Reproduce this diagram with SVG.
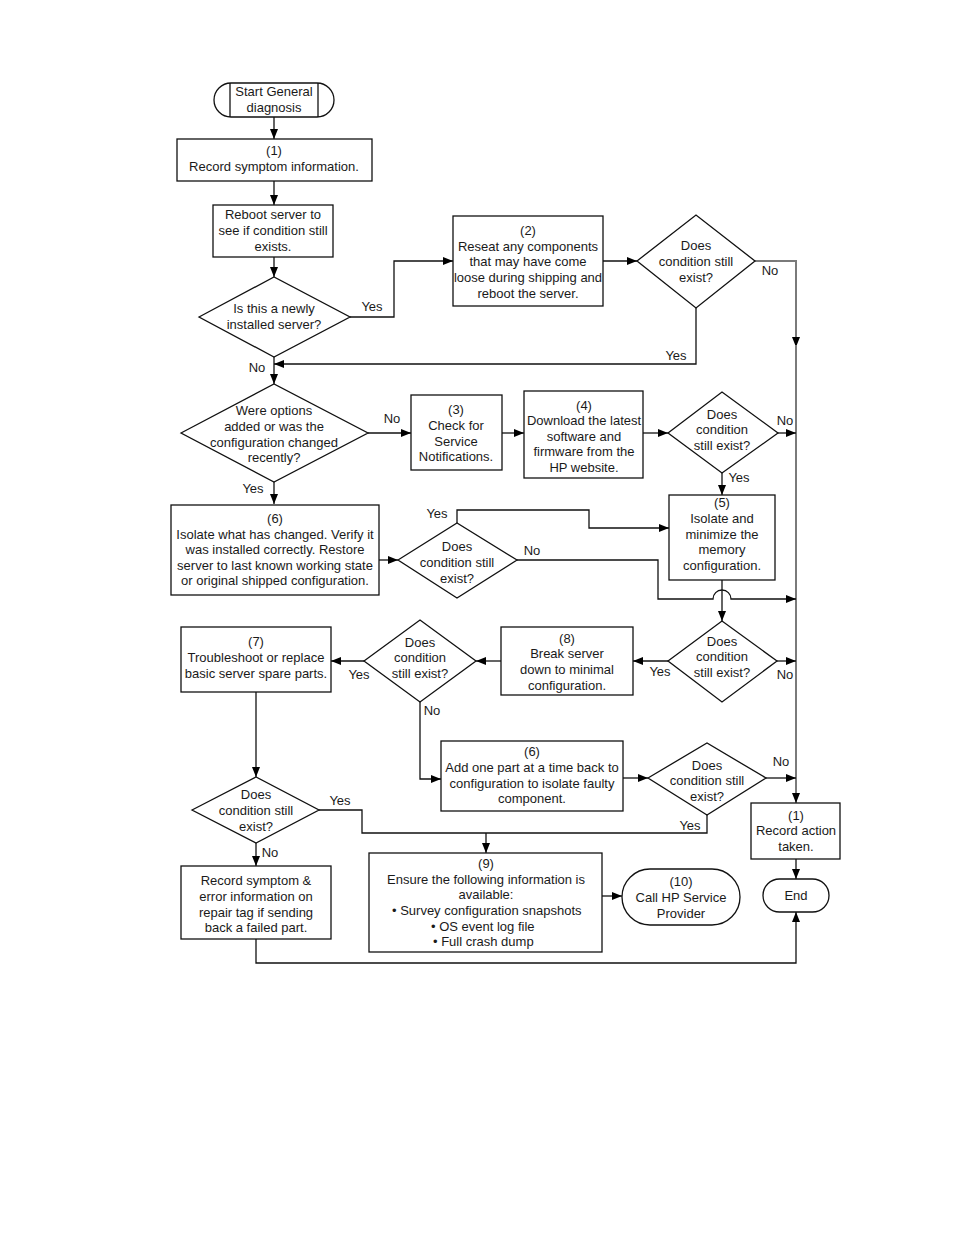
<svg xmlns="http://www.w3.org/2000/svg" width="954" height="1235" viewBox="0 0 954 1235">
<style>
.n rect,.n polygon,.n line{fill:#fff;stroke:#111;stroke-width:1.3}
.c path{fill:none;stroke:#111;stroke-width:1.3}
.c path.bus{stroke:#7a7a7a;stroke-width:2}
text{font-family:"Liberation Sans",Arial,sans-serif;font-size:13px;fill:#1a1a1a;text-anchor:middle}
.n text.l{text-anchor:start}
</style>
<defs>
<marker id="a" markerUnits="userSpaceOnUse" markerWidth="10" markerHeight="8" refX="10" refY="4" orient="auto" viewBox="0 0 10 8">
<path d="M0,0 L10,4 L0,8 z" fill="#000"/>
</marker>
</defs>
<rect width="954" height="1235" fill="#fff"/>
<g class="c" id="connectors">
<path d="M274,117 V139" marker-end="url(#a)"/>
<path d="M274,181 V205" marker-end="url(#a)"/>
<path d="M274,257 V277" marker-end="url(#a)"/>
<path d="M350,317 H394 V261 H453" marker-end="url(#a)"/>
<path d="M603,261 H637" marker-end="url(#a)"/>
<path class="bus" d="M755,261 H796 V347" marker-end="url(#a)"/>
<path class="bus" d="M796,345 V803" marker-end="url(#a)"/>
<path d="M696,308 V364 H274" marker-end="url(#a)"/>
<path d="M274,357 V384" marker-end="url(#a)"/>
<path d="M368,433 H411" marker-end="url(#a)"/>
<path d="M502,433 H524" marker-end="url(#a)"/>
<path d="M643,433 H668" marker-end="url(#a)"/>
<path d="M778,433 H796" marker-end="url(#a)"/>
<path d="M722,473 V495" marker-end="url(#a)"/>
<path d="M274,482 V504" marker-end="url(#a)"/>
<path d="M379,560 H398" marker-end="url(#a)"/>
<path d="M457,523 V510 H589 V528 H669" marker-end="url(#a)"/>
<path d="M517,560 H658 V599 H713 A9,9 0 0 1 731,599 H796" marker-end="url(#a)"/>
<path d="M722,580 V621" marker-end="url(#a)"/>
<path d="M777,661 H796" marker-end="url(#a)"/>
<path d="M668,661 H633" marker-end="url(#a)"/>
<path d="M501,661 H476" marker-end="url(#a)"/>
<path d="M364,661 H331" marker-end="url(#a)"/>
<path d="M420,702 V779 H441" marker-end="url(#a)"/>
<path d="M256,692 V777" marker-end="url(#a)"/>
<path d="M623,778 H648" marker-end="url(#a)"/>
<path d="M766,778 H796" marker-end="url(#a)"/>
<path d="M319,810 H362 V833 H707 V815"/>
<path d="M486,833 V853" marker-end="url(#a)"/>
<path d="M256,843 V866" marker-end="url(#a)"/>
<path d="M256,939 V963 H796 V912" marker-end="url(#a)"/>
<path d="M602,896 H622" marker-end="url(#a)"/>
<path d="M796,859 V879" marker-end="url(#a)"/>
</g>
<g id="labels">
<text x="372" y="311">Yes</text>
<text x="770" y="275">No</text>
<text x="676" y="360">Yes</text>
<text x="257" y="372">No</text>
<text x="392" y="423">No</text>
<text x="785" y="425">No</text>
<text x="739" y="482">Yes</text>
<text x="253" y="493">Yes</text>
<text x="437" y="518">Yes</text>
<text x="532" y="555">No</text>
<text x="785" y="679">No</text>
<text x="660" y="676">Yes</text>
<text x="359" y="679">Yes</text>
<text x="432" y="715">No</text>
<text x="781" y="766">No</text>
<text x="690" y="830">Yes</text>
<text x="340" y="805">Yes</text>
<text x="270" y="857">No</text>
</g>
<g class="n" id="start">
<rect x="214" y="83" width="120" height="34" rx="17"/>
<line x1="230" y1="83" x2="230" y2="117"/>
<line x1="318" y1="83" x2="318" y2="117"/>
<text x="274" y="96">Start General</text>
<text x="274" y="112">diagnosis</text>
</g>
<g class="n" id="record1">
<rect x="177" y="139" width="195" height="42"/>
<text x="274" y="155">(1)</text>
<text x="274" y="171">Record symptom information.</text>
</g>
<g class="n" id="reboot">
<rect x="213" y="205" width="120" height="52"/>
<text x="273" y="219">Reboot server to</text>
<text x="273" y="235">see if condition still</text>
<text x="273" y="251">exists.</text>
</g>
<g class="n" id="newserver">
<polygon points="199,317 274,277 350,317 274,357"/>
<text x="274" y="313">Is this a newly</text>
<text x="274" y="329">installed server?</text>
</g>
<g class="n" id="reseat">
<rect x="453" y="216" width="150" height="90"/>
<text x="528" y="235">(2)</text>
<text x="528" y="251">Reseat any components</text>
<text x="528" y="266">that may have come</text>
<text x="528" y="282">loose during shipping and</text>
<text x="528" y="298">reboot the server.</text>
</g>
<g class="n" id="dec2">
<polygon points="637,261 696,215 755,261 696,308"/>
<text x="696" y="250">Does</text>
<text x="696" y="266">condition still</text>
<text x="696" y="282">exist?</text>
</g>
<g class="n" id="options">
<polygon points="181,433 274,384 368,433 274,482"/>
<text x="274" y="415">Were options</text>
<text x="274" y="431">added or was the</text>
<text x="274" y="447">configuration changed</text>
<text x="274" y="462">recently?</text>
</g>
<g class="n" id="notifications">
<rect x="411" y="395" width="91" height="75"/>
<text x="456" y="414">(3)</text>
<text x="456" y="430">Check for</text>
<text x="456" y="446">Service</text>
<text x="456" y="461">Notifications.</text>
</g>
<g class="n" id="download">
<rect x="524" y="391" width="119" height="87"/>
<text x="584" y="410">(4)</text>
<text x="584" y="425">Download the latest</text>
<text x="584" y="441">software and</text>
<text x="584" y="456">firmware from the</text>
<text x="584" y="472">HP website.</text>
</g>
<g class="n" id="dec4">
<polygon points="668,433 722,392 778,433 722,473"/>
<text x="722" y="419">Does</text>
<text x="722" y="434">condition</text>
<text x="722" y="450">still exist?</text>
</g>
<g class="n" id="memory">
<rect x="669" y="495" width="106" height="85"/>
<text x="722" y="507">(5)</text>
<text x="722" y="523">Isolate and</text>
<text x="722" y="539">minimize the</text>
<text x="722" y="554">memory</text>
<text x="722" y="570">configuration.</text>
</g>
<g class="n" id="isolate">
<rect x="171" y="505" width="208" height="90"/>
<text x="275" y="523">(6)</text>
<text x="275" y="539">Isolate what has changed. Verify it</text>
<text x="275" y="554">was installed correctly.  Restore</text>
<text x="275" y="570">server to last known working state</text>
<text x="275" y="585">or original shipped configuration.</text>
</g>
<g class="n" id="dec6">
<polygon points="398,560 457,523 517,560 457,598"/>
<text x="457" y="551">Does</text>
<text x="457" y="567">condition still</text>
<text x="457" y="583">exist?</text>
</g>
<g class="n" id="dec5">
<polygon points="668,661 722,621 777,661 722,702"/>
<text x="722" y="646">Does</text>
<text x="722" y="661">condition</text>
<text x="722" y="677">still exist?</text>
</g>
<g class="n" id="breakdown">
<rect x="501" y="627" width="132" height="68"/>
<text x="567" y="643">(8)</text>
<text x="567" y="658">Break server</text>
<text x="567" y="674">down to minimal</text>
<text x="567" y="690">configuration.</text>
</g>
<g class="n" id="dec8">
<polygon points="364,661 420,620 476,661 420,702"/>
<text x="420" y="647">Does</text>
<text x="420" y="662">condition</text>
<text x="420" y="678">still exist?</text>
</g>
<g class="n" id="troubleshoot">
<rect x="181" y="627" width="150" height="65"/>
<text x="256" y="646">(7)</text>
<text x="256" y="662">Troubleshoot or replace</text>
<text x="256" y="678">basic server spare parts.</text>
</g>
<g class="n" id="addpart">
<rect x="441" y="741" width="182" height="70"/>
<text x="532" y="756">(6)</text>
<text x="532" y="772">Add one part at a time back to</text>
<text x="532" y="788">configuration to isolate faulty</text>
<text x="532" y="803">component.</text>
</g>
<g class="n" id="dec6b">
<polygon points="648,778 707,743 766,778 707,815"/>
<text x="707" y="770">Does</text>
<text x="707" y="785">condition still</text>
<text x="707" y="801">exist?</text>
</g>
<g class="n" id="dec7">
<polygon points="192,810 256,777 319,810 256,843"/>
<text x="256" y="799">Does</text>
<text x="256" y="815">condition still</text>
<text x="256" y="831">exist?</text>
</g>
<g class="n" id="recordtag">
<rect x="181" y="866" width="150" height="73"/>
<text x="256" y="885">Record symptom &amp;</text>
<text x="256" y="901">error information on</text>
<text x="256" y="917">repair tag if sending</text>
<text x="256" y="932">back a failed part.</text>
</g>
<g class="n" id="ensure">
<rect x="369" y="853" width="233" height="99"/>
<text x="486" y="868">(9)</text>
<text x="486" y="884">Ensure the following information is</text>
<text x="486" y="899">available:</text>
<text class="l" x="392" y="915">• Survey configuration snapshots</text>
<text class="l" x="431" y="931">• OS event log file</text>
<text class="l" x="433" y="946">• Full crash dump</text>
</g>
<g class="n" id="callhp">
<rect x="622" y="869" width="118" height="56" rx="28"/>
<text x="681" y="886">(10)</text>
<text x="681" y="902">Call HP Service</text>
<text x="681" y="918">Provider</text>
</g>
<g class="n" id="recordaction">
<rect x="751" y="803" width="89" height="56"/>
<text x="796" y="820">(1)</text>
<text x="796" y="835">Record action</text>
<text x="796" y="851">taken.</text>
</g>
<g class="n" id="end">
<rect x="763" y="879" width="66" height="33" rx="16.5"/>
<text x="796" y="900">End</text>
</g>
</svg>
